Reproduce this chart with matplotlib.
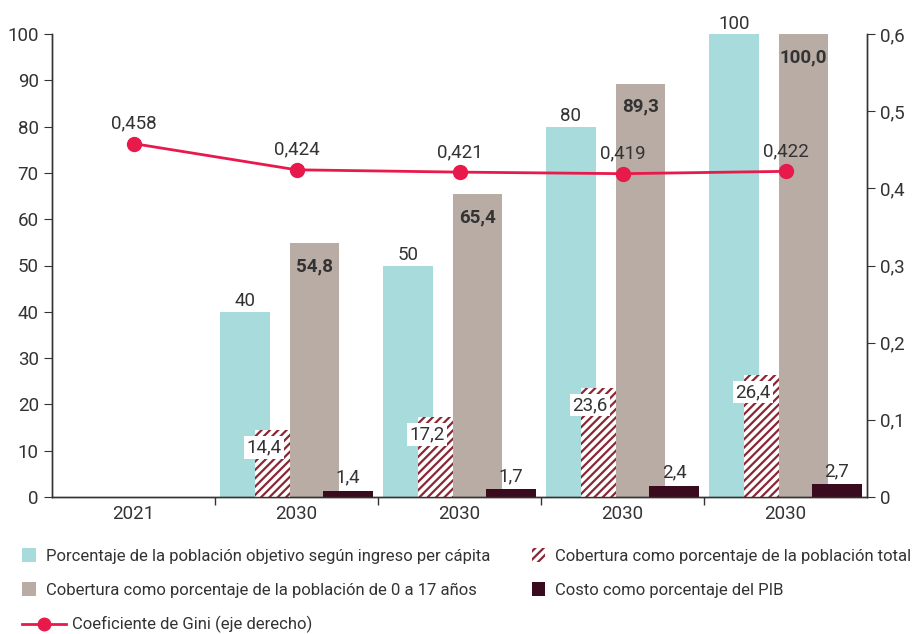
import numpy as np
import matplotlib
matplotlib.use("Agg")
import matplotlib.pyplot as plt
from matplotlib.patches import Patch
from matplotlib.lines import Line2D

plt.rcParams['font.family'] = ['Roboto', 'DejaVu Sans']
plt.rcParams['hatch.linewidth'] = 1.6

# data
categorias = ["2021", "2030", "2030", "2030", "2030"]
objetivo = [np.nan, 40, 50, 80, 100]
cob_total = [np.nan, 14.4, 17.2, 23.6, 26.4]
cob_0_17 = [np.nan, 54.8, 65.4, 89.3, 100.0]
costo_pib = [np.nan, 1.4, 1.7, 2.4, 2.7]
gini = [0.458, 0.424, 0.421, 0.419, 0.422]

c_teal = "#a8dcdc"
c_beige = "#b9aca5"
c_dark = "#3a0a1e"
c_hatch = "#8b2635"
c_red = "#e8194b"
c_txt = "#333333"

def fmt(v, d=1):
    return ("{:.%df}" % d).format(v).replace(".", ",")

x = np.arange(len(categorias))

fig = plt.figure(figsize=(9.21, 6.34), dpi=100)
ax = fig.add_axes([52/921, 1-497/634, (867-52)/921, (497-34)/634])
ax2 = ax.twinx()

ax.bar(x - 0.316, objetivo, width=0.307, color=c_teal, zorder=2)
ax.bar(x - 0.148, cob_total, width=0.216, color="white", edgecolor=c_hatch,
       hatch="////", linewidth=0, zorder=3)
ax.bar(x + 0.110, cob_0_17, width=0.30, color=c_beige, zorder=2)
ax.bar(x + 0.316, costo_pib, width=0.307, color=c_dark, zorder=3)

fs = 13.5
for i in x:
    if np.isnan(objetivo[i]):
        continue
    ax.annotate(str(int(objetivo[i])), (x[i] - 0.316, objetivo[i]), xytext=(0, 1),
                textcoords="offset points", ha="center", va="bottom",
                fontsize=fs, color=c_txt, zorder=5)
    ax.text(x[i] + 0.110, cob_0_17[i] - 5, fmt(cob_0_17[i]), ha="center",
            va="center", fontsize=fs, fontweight="bold", color=c_txt, zorder=5)
    ax.text(x[i] - 0.2, cob_total[i] - 3.7, fmt(cob_total[i]), ha="center",
            va="center", fontsize=fs, color=c_txt, zorder=5,
            bbox=dict(facecolor="white", edgecolor="none", pad=1.5))
    ax.annotate(fmt(costo_pib[i]), (x[i] + 0.316, costo_pib[i]), xytext=(0, 3),
                textcoords="offset points", ha="center", va="bottom",
                fontsize=fs, color=c_txt, zorder=5)

ax2.plot(x, gini, color=c_red, linewidth=2, marker="o", markersize=10, zorder=4)
for i in x:
    ax2.annotate(fmt(gini[i], 3), (x[i], gini[i]), xytext=(0, 8),
                 textcoords="offset points", ha="center", va="bottom",
                 fontsize=fs, color=c_txt)

ax.set_xlim(-0.5, 4.5)
ax.set_ylim(0, 100)
ax2.set_ylim(0, 0.6)
ax.set_yticks(np.arange(0, 101, 10))
ax2.set_yticks(np.arange(0, 0.61, 0.1))
ax2.set_yticklabels([("%.1f" % v).replace(".", ",") if v > 0 else "0"
                     for v in np.arange(0, 0.61, 0.1)])

ax.set_xticks(x)
ax.set_xticklabels(categorias)
ax.set_xticks(np.arange(0.5, 4.5, 1), minor=True)
ax.tick_params(axis="x", which="major", length=0, labelsize=fs, labelcolor=c_txt, pad=6)
ax.tick_params(axis="x", which="minor", length=6, width=1, color=c_txt)
ax.tick_params(axis="y", length=6, labelsize=fs, labelcolor=c_txt, color=c_txt)
ax2.tick_params(axis="y", length=6, labelsize=fs, labelcolor=c_txt, color=c_txt)

for a in (ax, ax2):
    a.spines["top"].set_visible(False)
    for s in ("left", "right", "bottom"):
        a.spines[s].set_color(c_txt)
        a.spines[s].set_linewidth(1)
ax2.patch.set_visible(False)

h1 = [Patch(facecolor=c_teal, edgecolor="none"),
      Patch(facecolor=c_beige, edgecolor="none"),
      Patch(facecolor="white", edgecolor=c_hatch, hatch="////", linewidth=0),
      Patch(facecolor=c_dark, edgecolor="none")]
l1 = ["Porcentaje de la población objetivo según ingreso per cápita",
      "Cobertura como porcentaje de la población de 0 a 17 años",
      "Cobertura como porcentaje de la población total",
      "Costo como porcentaje del PIB"]
fig.legend(h1, l1, ncol=2, loc="upper left", bbox_to_anchor=(0.008, 1 - 533/634),
           frameon=False, fontsize=12, handlelength=0.8, handleheight=0.9,
           handletextpad=0.6, columnspacing=2.5, labelspacing=1.1,
           labelcolor=c_txt)
h2 = [Line2D([0], [0], color=c_red, linewidth=2, marker="o", markersize=9)]
fig.legend(h2, ["Coeficiente de Gini (eje derecho)"], loc="upper left",
           bbox_to_anchor=(0.008, 1 - 601/634), frameon=False, fontsize=12,
           handlelength=2.6, handletextpad=0.4, labelcolor=c_txt)

fig.savefig("out.png", dpi=100)
